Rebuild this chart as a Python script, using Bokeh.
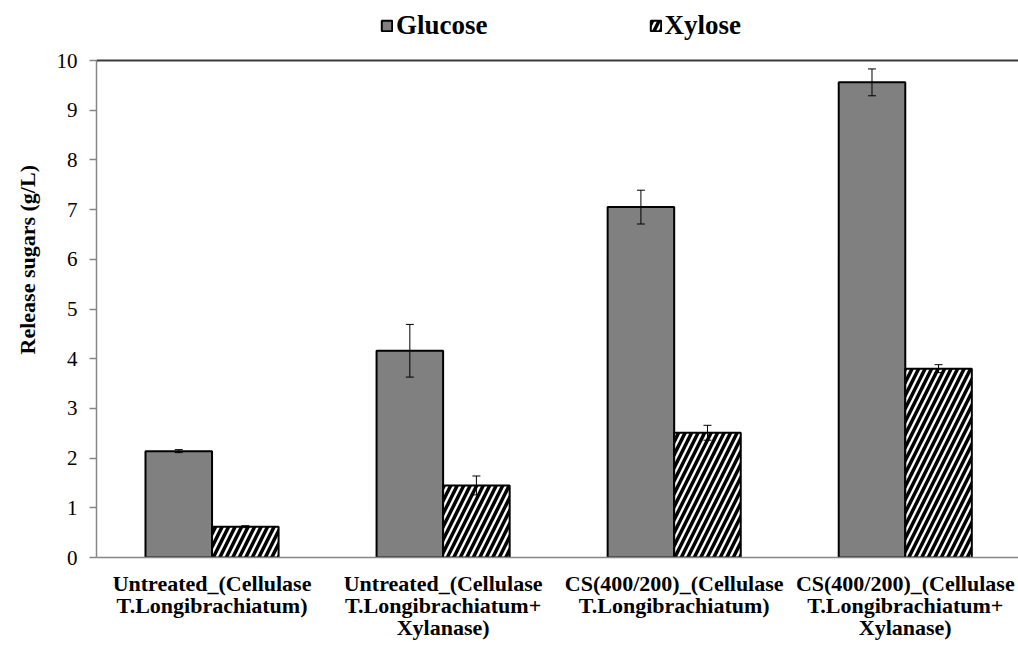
from bokeh.plotting import figure
from bokeh.models import (ColumnDataSource, Legend, LegendItem, Whisker, TeeHead,
                          FixedTicker, Span, Range1d)
from bokeh.embed import file_html
from bokeh.resources import INLINE

categories = ["Untreated_(Cellulase\nT.Longibrachiatum)",
              "Untreated_(Cellulase\nT.Longibrachiatum+\nXylanase)",
              "CS(400/200)_(Cellulase\nT.Longibrachiatum)",
              "CS(400/200)_(Cellulase\nT.Longibrachiatum+\nXylanase)"]
glucose = [2.14, 4.16, 7.05, 9.56]
glucose_err = [0.03, 0.53, 0.34, 0.27]
xylose = [0.62, 1.45, 2.51, 3.80]
xylose_err = [0.02, 0.19, 0.15, 0.08]
y_ticks = [0, 1, 2, 3, 4, 5, 6, 7, 8, 9, 10]

FONT = "Liberation Serif"
pos = [i + 0.5 for i in range(len(categories))]
bw = 0.288

src_g = ColumnDataSource(dict(x=[p_ - bw / 2 for p_ in pos], top=glucose,
                              lo=[v - e for v, e in zip(glucose, glucose_err)],
                              hi=[v + e for v, e in zip(glucose, glucose_err)]))
src_x = ColumnDataSource(dict(x=[p_ + bw / 2 for p_ in pos], top=xylose,
                              lo=[v - e for v, e in zip(xylose, xylose_err)],
                              hi=[v + e for v, e in zip(xylose, xylose_err)]))

H, BOTTOM = 648, 91
frame_h = H - BOTTOM
y_top = y_ticks[-1] * frame_h / (frame_h - 60)   # leaves room for legend above the 10-line

p = figure(width=1018, height=H, output_backend="svg", toolbar_location=None,
           x_range=Range1d(0, 3.99), y_range=Range1d(0, y_top), title_location=None,
           min_border_left=96, min_border_top=0, min_border_bottom=BOTTOM, min_border_right=0)
p.outline_line_color = None
p.grid.visible = False
p.background_fill_color = "white"

rg = p.vbar(x="x", top="top", width=bw, source=src_g, fill_color="#808080",
            line_color="black", line_width=2)
rx = p.vbar(x="x", top="top", width=bw, source=src_x, fill_color="white",
            line_color="black", line_width=2, hatch_pattern="/", hatch_color="black",
            hatch_weight=3.5, hatch_scale=13)

for s in (src_g, src_x):
    w = Whisker(source=s, base="x", lower="lo", upper="hi", line_color="black", line_width=1,
                lower_head=TeeHead(size=8, line_color="black", line_width=1),
                upper_head=TeeHead(size=8, line_color="black", line_width=1),
                level="overlay")
    p.add_layout(w)

p.add_layout(Span(location=y_ticks[-1], dimension="width", line_color="#3a3a3a", line_width=2))

# y axis
p.yaxis.bounds = (y_ticks[0], y_ticks[-1])
p.yaxis.ticker = FixedTicker(ticks=y_ticks)
p.yaxis.minor_tick_line_color = None
p.yaxis.major_tick_out = 7
p.yaxis.major_tick_in = 0
p.yaxis.axis_line_color = "#868686"
p.yaxis.axis_line_width = 1.5
p.yaxis.major_tick_line_color = "#868686"
p.yaxis.major_tick_line_width = 1.5
p.yaxis.major_label_text_font = FONT
p.yaxis.major_label_text_font_size = "21px"
p.yaxis.major_label_text_color = "black"
p.yaxis.major_label_standoff = 12
p.yaxis.axis_label = "\u00a0" * 7 + "Release sugars (g/L)"
p.yaxis.axis_label_text_font = FONT
p.yaxis.axis_label_text_font_size = "22px"
p.yaxis.axis_label_text_font_style = "bold"
p.yaxis.axis_label_text_color = "black"
p.yaxis.axis_label_standoff = 14

# x axis
p.xaxis.ticker = FixedTicker(ticks=pos)
p.xaxis.major_label_overrides = {v: c for v, c in zip(pos, categories)}
p.xaxis.minor_tick_line_color = None
p.xaxis.major_tick_line_color = None
p.xaxis.major_tick_out = 0
p.xaxis.major_tick_in = 0
p.xaxis.axis_line_color = "#868686"
p.xaxis.axis_line_width = 1.5
p.xaxis.major_label_text_font = FONT
p.xaxis.major_label_text_font_size = "22px"
p.xaxis.major_label_text_font_style = "bold"
p.xaxis.major_label_text_color = "black"
p.xaxis.major_label_text_line_height = 0.88
p.xaxis.major_label_standoff = 13

legend = Legend(items=[LegendItem(label="Glucose", renderers=[rg]),
                       LegendItem(label="Xylose", renderers=[rx])],
                orientation="horizontal", location=(284, 516), spacing=161,
                glyph_width=13, glyph_height=13, label_standoff=3,
                label_text_font=FONT, label_text_font_size="27px",
                label_text_font_style="bold", label_text_color="black",
                border_line_color=None, background_fill_alpha=0, padding=0, margin=0)
p.add_layout(legend, "center")

open("out.html", "w").write(file_html(p, INLINE))
